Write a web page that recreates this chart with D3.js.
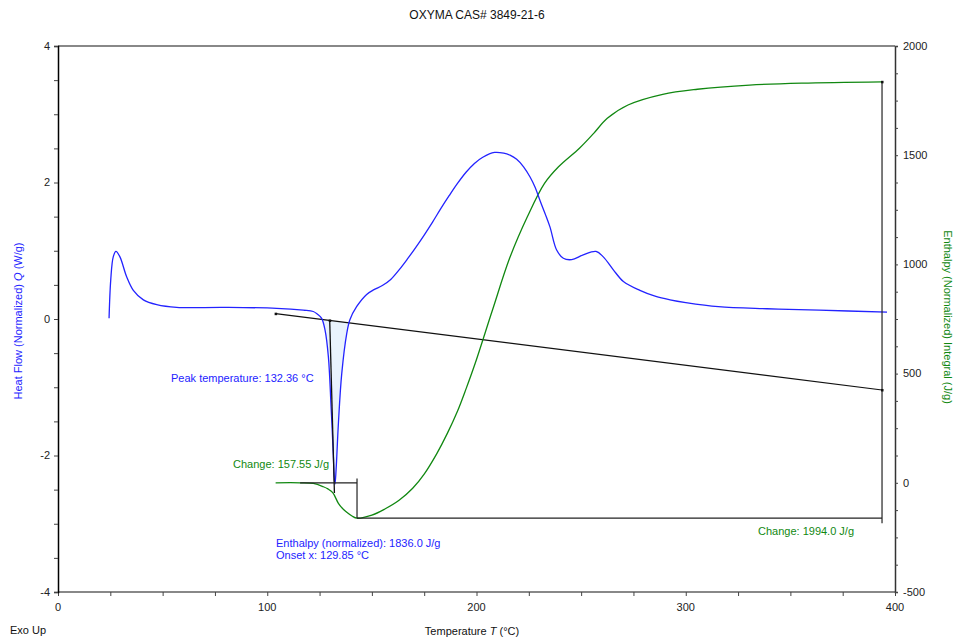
<!DOCTYPE html>
<html lang="en">
<head>
  <meta charset="UTF-8">
  <title>OXYMA CAS# 3849-21-6</title>
  <script src="https://d3js.org/d3.v7.min.js"></script>
  <style>
    body { margin: 0; background: #fff; }
    svg { display: block; font-family: "Liberation Sans", Arial, sans-serif; }
    .tick-label { font-size: 11px; fill: #222; }
  </style>
</head>
<body>
  <svg id="chart" width="955" height="639"></svg>
  <script>
    // heat flow (normalized), W/g
    const flowT = [24.4, 25.2, 26.4, 27.7, 29.6, 32.8, 36, 40.8, 47.2, 56.7, 79, 104.5, 117.2, 122, 124, 126, 127.6, 129.2, 130.5, 131.6, 132.0, 132.36, 132.9, 134.0, 135.6, 138.0, 139.5, 142.7, 147.5, 151, 155, 159, 163, 167, 171, 175, 179, 183, 187, 191, 195, 199, 203, 208.6, 213, 216, 219.2, 222.5, 225.6, 228, 230.3, 232.7, 235.1, 238.3, 241.5, 245.5, 251, 257.1, 260.6, 265.4, 270.2, 278.1, 285.7, 292.5, 300, 315.6, 338.9, 363.8, 396.2];
    const flowQ = [0.01, 0.57, 0.91, 0.99, 0.91, 0.62, 0.42, 0.28, 0.21, 0.17, 0.17, 0.157, 0.13, 0.11, 0.07, 0.01, -0.16, -0.55, -1.28, -2.01, -2.33, -2.42, -2.21, -1.53, -0.80, -0.21, -0.01, 0.18, 0.36, 0.43, 0.49, 0.58, 0.72, 0.88, 1.05, 1.23, 1.42, 1.62, 1.81, 1.99, 2.15, 2.28, 2.37, 2.44, 2.43, 2.40, 2.34, 2.23, 2.08, 1.93, 1.74, 1.55, 1.35, 1.01, 0.89, 0.87, 0.94, 0.99, 0.91, 0.72, 0.55, 0.42, 0.33, 0.28, 0.24, 0.18, 0.15, 0.13, 0.10];

    // enthalpy integral, J/g
    const intT = [104, 115.7, 122, 126.8, 129, 131.3, 134, 136, 138, 140.5, 142.9, 150, 156.2, 163, 169.5, 175, 181.1, 186, 191, 195, 199.3, 207.6, 215.9, 224.3, 232.5, 239.2, 249.2, 256, 262.5, 272.4, 289, 305.6, 330.5, 355.4, 393.8];
    const intH = [0, 0, -3, -18, -28, -45, -94, -118, -135, -152, -162, -148, -120, -80, -25, 40, 135, 225, 330, 430, 545, 790, 1030, 1218, 1371, 1447, 1532, 1600, 1669, 1730, 1779, 1802, 1821, 1830, 1836];

    // evaluation results
    const baseT = [104, 393.8], baseQ = [0.078, -1.04];
    const onsetT = 129.85, peakT = 132.36, tangentEnd = [132.1, -2.55];
    const stepT = [115.7, 142.9], stepTop = 20, stepLow = -162;
    const totalT = 393.8, totalTop = 1836;

    const xTicks = [0, 100, 200, 300, 400];
    const qTicks = [4, 2, 0, -2, -4];
    const hTicks = [2000, 1500, 1000, 500, 0, -500];

    const svg = d3.select('#chart');
    const L = 58, R = 895, T = 46, B = 592;
    const x = d3.scaleLinear().domain([0, 400]).range([L, R]);
    const yQ = d3.scaleLinear().domain([-4, 4]).range([B, T]);
    const yH = d3.scaleLinear().domain([-500, 2000]).range([B, T]);

    const blue = '#2323ff', green = '#118811';
    const smooth = d3.curveCatmullRom.alpha(0.5);
    const baseAt = t => baseQ[0] + (t - baseT[0]) * (baseQ[1] - baseQ[0]) / (baseT[1] - baseT[0]);

    // frame: gray top/bottom, black sides
    svg.append('line').attr('x1', L).attr('x2', R).attr('y1', T).attr('y2', T).attr('stroke', '#888').attr('stroke-width', 2);
    svg.append('line').attr('x1', L).attr('x2', R).attr('y1', B).attr('y2', B).attr('stroke', '#888').attr('stroke-width', 2);

    const gx = svg.append('g').attr('transform', `translate(0,${B})`)
      .call(d3.axisBottom(x).tickValues(d3.range(0, 401, 25)).tickSize(4).tickFormat(''));
    const gl = svg.append('g').attr('transform', `translate(${L},0)`)
      .call(d3.axisLeft(yQ).tickValues(d3.range(-4, 4.01, 0.5)).tickSize(4).tickFormat(''));
    const gr = svg.append('g').attr('transform', `translate(${R},0)`)
      .call(d3.axisRight(yH).tickValues(d3.range(-500, 2001, 125)).tickSize(3).tickFormat(''));
    gx.select('.domain').remove();
    gl.select('.domain').attr('stroke', '#000').attr('stroke-width', 1.5);
    gr.select('.domain').attr('stroke', '#333').attr('stroke-width', 1.5);
    [gx, gl, gr].forEach(g => g.selectAll('.tick line').attr('stroke', '#444'));

    svg.selectAll('.xl').data(xTicks).join('text').attr('class', 'tick-label')
      .attr('x', d => x(d)).attr('y', 611).attr('text-anchor', 'middle').text(d => d);
    svg.selectAll('.ql').data(qTicks).join('text').attr('class', 'tick-label')
      .attr('x', 50).attr('y', d => yQ(d)).attr('dy', '0.35em').attr('text-anchor', 'end').text(d => d);
    svg.selectAll('.hl').data(hTicks).join('text').attr('class', 'tick-label')
      .attr('x', 903).attr('y', d => yH(d)).attr('dy', '0.35em').text(d => d);

    // shaded peak area between curve and baseline
    const flow = flowT.map((t, i) => ({ t, q: flowQ[i] }));
    const inPeak = flow.filter(d => d.t >= 125.6 && d.t <= 139.5);
    svg.append('path').datum(inPeak)
      .attr('fill', '#e9f3fd')
      .attr('d', d3.area().x(d => x(d.t)).y0(d => yQ(baseAt(d.t))).y1(d => yQ(Math.min(d.q, baseAt(d.t)))).curve(d3.curveMonotoneX));

    // baseline
    svg.append('line').attr('x1', x(baseT[0])).attr('y1', yQ(baseQ[0])).attr('x2', x(baseT[1])).attr('y2', yQ(baseQ[1]))
      .attr('stroke', '#111').attr('stroke-width', 1.2);

    // integral curve
    const integ = intT.map((t, i) => ({ t, h: intH[i] }));
    svg.append('path').datum(integ).attr('fill', 'none').attr('stroke', green).attr('stroke-width', 1.3)
      .attr('d', d3.line().x(d => x(d.t)).y(d => yH(d.h)).curve(smooth));

    // heat flow curve
    svg.append('path').datum(flow).attr('fill', 'none').attr('stroke', blue).attr('stroke-width', 1.3)
      .attr('d', d3.line().x(d => x(d.t)).y(d => yQ(d.q)).curve(smooth));

    // onset tangent
    svg.append('line').attr('x1', x(onsetT)).attr('y1', yQ(baseAt(onsetT))).attr('x2', x(tangentEnd[0])).attr('y2', yQ(tangentEnd[1]))
      .attr('stroke', '#111').attr('stroke-width', 1.3);

    // step markers for integral
    const blk = (x1, y1, x2, y2) => svg.append('line').attr('x1', x1).attr('y1', y1).attr('x2', x2).attr('y2', y2)
      .attr('stroke', '#222').attr('stroke-width', 1.2);
    blk(x(stepT[0]), yH(0), x(stepT[1]), yH(0));
    blk(x(stepT[1]), yH(stepTop), x(stepT[1]), yH(stepLow));
    blk(x(stepT[1]), yH(stepLow), x(totalT), yH(stepLow));
    blk(x(totalT), yH(totalTop), x(totalT), yH(stepLow) + 5);
    // small end marks
    [[x(totalT), yH(totalTop)], [x(totalT), yQ(baseQ[1])], [x(baseT[0]), yQ(baseQ[0])], [x(onsetT), yQ(baseAt(onsetT))]]
      .forEach(p => svg.append('rect').attr('x', p[0] - 1).attr('y', p[1] - 1).attr('width', 2.5).attr('height', 2.5).attr('fill', '#111'));

    // annotations
    const note = (tx, ty, txt, c) => svg.append('text').attr('x', tx).attr('y', ty).attr('font-size', 11).attr('fill', c).text(txt);
    note(171, 382, `Peak temperature: ${peakT.toFixed(2)} °C`, blue);
    note(233, 468, 'Change: 157.55 J/g', green);
    note(276, 547, 'Enthalpy (normalized): 1836.0 J/g', blue);
    note(276, 559, `Onset x: ${onsetT.toFixed(2)} °C`, blue);
    note(758, 535, 'Change: 1994.0 J/g', green);

    // titles
    svg.append('text').attr('x', 477).attr('y', 19).attr('text-anchor', 'middle').attr('font-size', 12).attr('fill', '#111')
      .text('OXYMA CAS# 3849-21-6');
    svg.append('text').attr('x', 10).attr('y', 634).attr('font-size', 11).attr('fill', '#111').text('Exo Up');
    const xl = svg.append('text').attr('x', 472).attr('y', 635).attr('text-anchor', 'middle').attr('font-size', 11).attr('fill', '#111');
    xl.append('tspan').text('Temperature ');
    xl.append('tspan').attr('font-style', 'italic').text('T');
    xl.append('tspan').text(' (°C)');

    const yl = svg.append('text').attr('transform', 'translate(22,321) rotate(-90)').attr('text-anchor', 'middle')
      .attr('font-size', 11).attr('fill', blue);
    yl.append('tspan').text('Heat Flow (Normalized)  ');
    yl.append('tspan').attr('font-style', 'italic').text('Q');
    yl.append('tspan').text(' (W/g)');

    svg.append('text').attr('transform', 'translate(944,317) rotate(90)').attr('text-anchor', 'middle')
      .attr('font-size', 11).attr('fill', green).text('Enthalpy (Normalized) Integral (J/g)');
  </script>
</body>
</html>
